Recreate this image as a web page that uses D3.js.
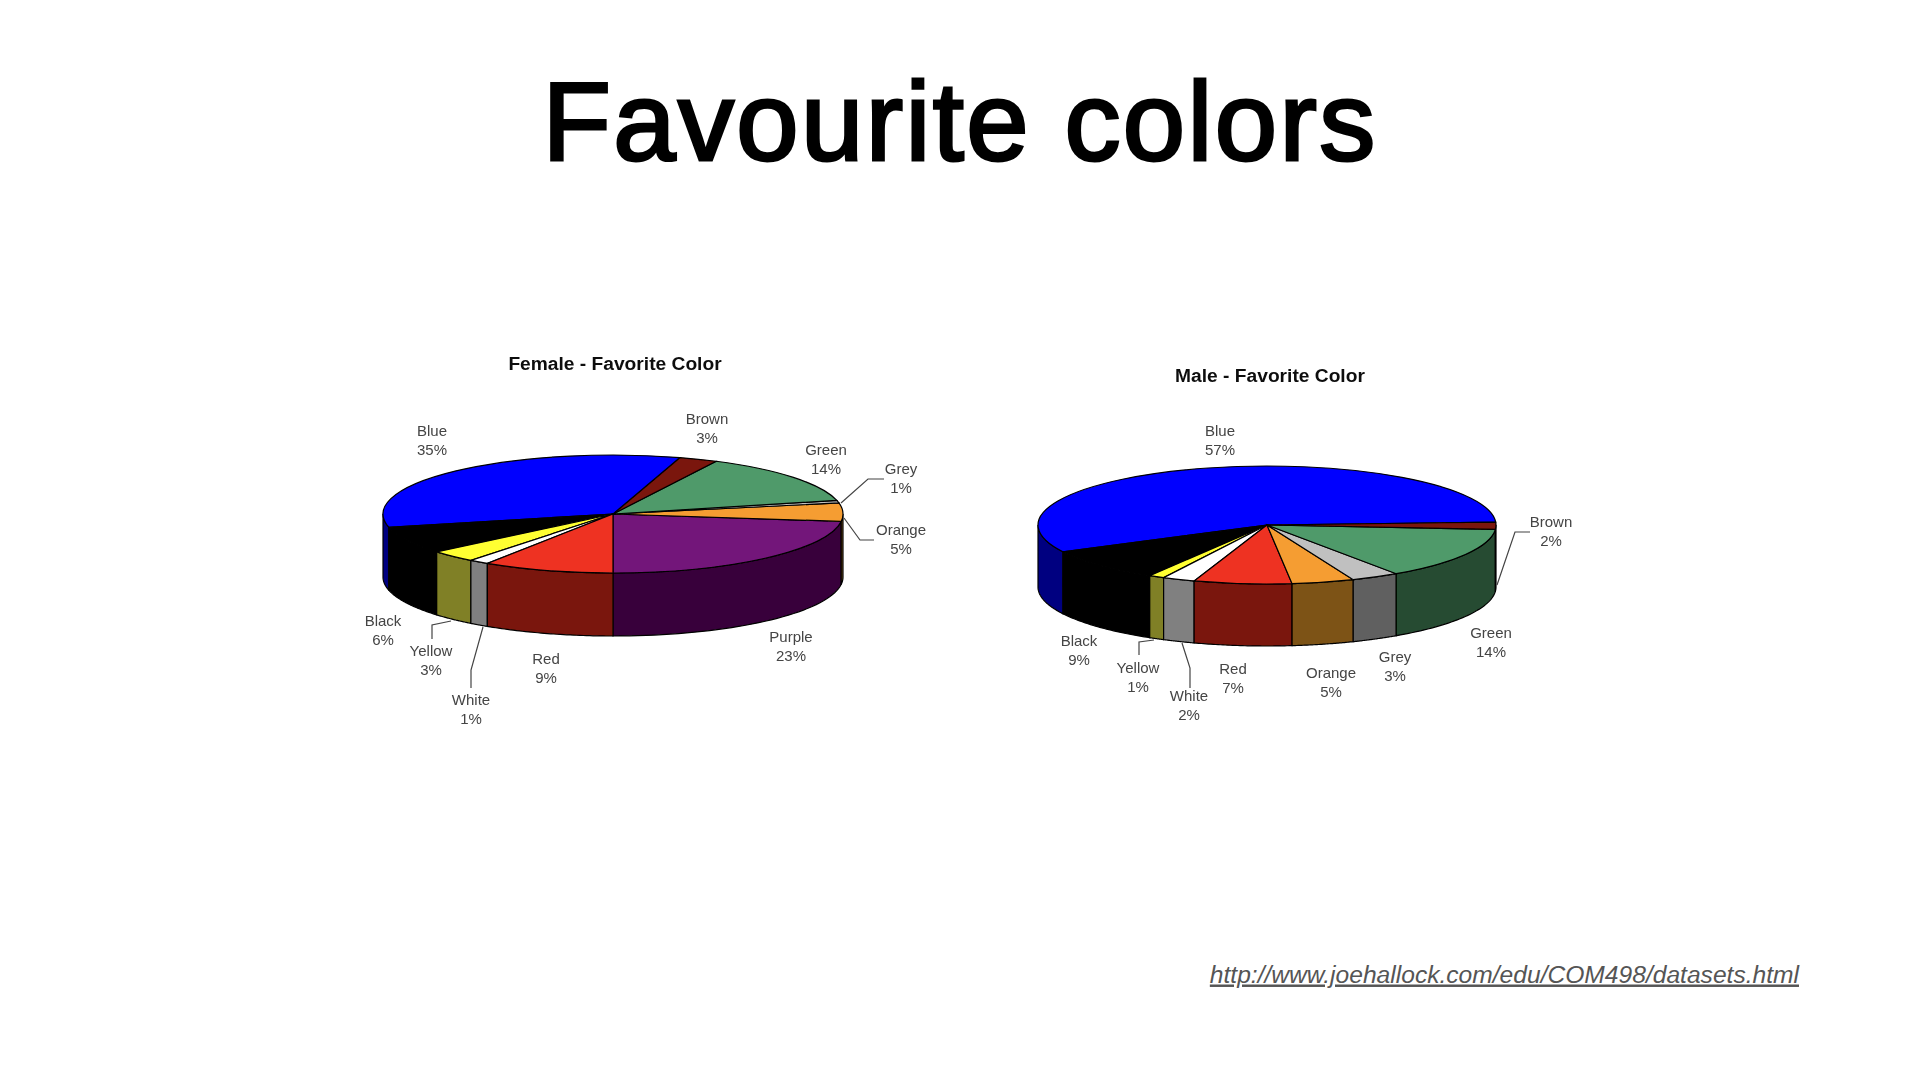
<!DOCTYPE html>
<html>
<head>
<meta charset="utf-8">
<title>Favourite colors</title>
<script src="https://d3js.org/d3.v7.min.js"></script>
<style>
    html, body { margin: 0; background: #fff; }
    svg { display: block; }
    text { font-family: "Liberation Sans", Arial, sans-serif; }
</style>
</head>
<body>
<svg id="chart" width="1920" height="1080"></svg>
<script>
// slice sizes measured off the two pies, in drawing order (counter-clockwise on screen).
// the printed percentages are rounded and don't quite agree with the drawn wedges
const femaleNames = ['Purple', 'Orange', 'Grey', 'Green', 'Brown', 'Blue', 'Black', 'Yellow', 'White', 'Red']
const femaleValues = [23, 5, 0.7, 13.9, 2.7, 33.3, 7.5, 3.3, 1.4, 9.2]
const femaleLabels = ['23%', '5%', '1%', '14%', '3%', '35%', '6%', '3%', '1%', '9%']

const maleNames = ['Blue', 'Black', 'Yellow', 'White', 'Red', 'Orange', 'Grey', 'Green', 'Brown']
const maleValues = [56.7, 8.95, 1.1, 2.3, 6.9, 4.4, 3.4, 14.25, 2]
const maleLabels = ['57%', '9%', '1%', '2%', '7%', '5%', '3%', '14%', '2%']

const topColors = {
    Blue: '#0000ff', Black: '#000000', Yellow: '#ffff33', White: '#ffffff', Red: '#ee3224',
    Purple: '#73137a', Orange: '#f59d30', Grey: '#c0c0c0', Green: '#4f9a6a', Brown: '#7a120a'
}
const wallColors = {
    Blue: '#000080', Black: '#000000', Yellow: '#808025', White: '#808080', Red: '#7a120a',
    Purple: '#39053a', Orange: '#7d5214', Grey: '#606060', Green: '#284c32', Brown: '#3d0905'
}

// label centres, [x, y of first line]
const femaleLabelPos = {
    Blue: [432, 431], Brown: [707, 419], Green: [826, 450], Grey: [901, 469], Orange: [901, 530],
    Purple: [791, 637], Red: [546, 659], White: [471, 700], Yellow: [431, 651], Black: [383, 621]
}
const maleLabelPos = {
    Blue: [1220, 431], Brown: [1551, 522], Green: [1491, 633], Grey: [1395, 657], Orange: [1331, 673],
    Red: [1233, 669], White: [1189, 696], Yellow: [1138, 668], Black: [1079, 641]
}

const femaleLeaders = [
    [[841, 503], [868, 479], [884, 479]],
    [[844, 518], [860, 540], [874, 540]],
    [[451, 621], [432, 625], [432, 639]],
    [[483, 627], [471, 670], [471, 688]]
]
const maleLeaders = [
    [[1497, 585], [1515, 532], [1530, 532]],
    [[1154, 640], [1139, 642], [1139, 655]],
    [[1182, 643], [1190, 668], [1190, 688]]
]

const svg = d3.select('#chart')

// the source pies are a blurry screenshot
svg.append('defs').append('filter')
    .attr('id', 'soft')
    .append('feGaussianBlur')
    .attr('stdDeviation', 0.5)

svg.append('text')
    .attr('x', 960)
    .attr('y', 160)
    .attr('text-anchor', 'middle')
    .attr('font-size', 112)
    .attr('letter-spacing', 2.4)
    .attr('stroke', '#000')
    .attr('stroke-width', 3)
    .text('Favourite colors')

svg.append('text')
    .attr('x', 1799)
    .attr('y', 982.5)
    .attr('text-anchor', 'end')
    .attr('font-size', 24.6)
    .attr('font-style', 'italic')
    .attr('fill', '#555')
    .attr('text-decoration', 'underline')
    .text('http://www.joehallock.com/edu/COM498/datasets.html')

drawPie({
    title: 'Female - Favorite Color', titleX: 615, titleY: 363,
    names: femaleNames, values: femaleValues, labels: femaleLabels, start: Math.PI,
    cx: 613, cy: 514, rx: 230, ry: 59, depth: 63,
    labelPos: femaleLabelPos, leaders: femaleLeaders
})

drawPie({
    title: 'Male - Favorite Color', titleX: 1270, titleY: 375,
    names: maleNames, values: maleValues, labels: maleLabels, start: Math.PI / 2 - 0.05,
    cx: 1267, cy: 525, rx: 229, ry: 59, depth: 62,
    labelPos: maleLabelPos, leaders: maleLeaders
})

function drawPie(opts) {
    let g = svg.append('g').attr('filter', 'url(#soft)')

    let slices = d3.pie()
        .sort(null)
        .startAngle(opts.start)
        .endAngle(opts.start - 2 * Math.PI)(opts.values)
        .map((d, i) => ({ ...d, name: opts.names[i], label: opts.labels[i] }))

    // front walls first, only the parts that face the viewer
    let wallParts = []
    slices.forEach(d => {
        let hi = Math.max(d.startAngle, d.endAngle)
        let lo = Math.min(d.startAngle, d.endAngle)
        d3.range(-2, 3).forEach(k => {
            let a0 = Math.max(lo, Math.PI / 2 + 2 * Math.PI * k)
            let a1 = Math.min(hi, 3 * Math.PI / 2 + 2 * Math.PI * k)
            if (a1 > a0) wallParts.push({ name: d.name, a0: a0, a1: a1 })
        })
    })

    let line = d3.line()

    g.selectAll('path.wall')
        .data(wallParts)
        .join('path')
        .attr('class', 'wall')
        .attr('d', d => {
            let top = d3.range(41).map(i => {
                let a = d.a0 + (d.a1 - d.a0) * i / 40
                return [opts.cx + opts.rx * Math.sin(a), opts.cy - opts.ry * Math.cos(a)]
            })
            let bottom = top.slice().reverse().map(p => [p[0], p[1] + opts.depth])
            return line(top.concat(bottom)) + 'Z'
        })
        .attr('fill', d => wallColors[d.name])
        .attr('stroke', '#000')
        .attr('stroke-width', 1.2)

    // top face is a normal arc squashed into an ellipse
    let arc = d3.arc().innerRadius(0).outerRadius(opts.rx)

    g.append('g')
        .attr('transform', `translate(${opts.cx},${opts.cy}) scale(1,${opts.ry / opts.rx})`)
        .selectAll('path')
        .data(slices)
        .join('path')
        .attr('d', arc)
        .attr('fill', d => topColors[d.name])
        .attr('stroke', '#000')
        .attr('stroke-width', 1.2)
        .attr('vector-effect', 'non-scaling-stroke')

    g.selectAll('path.leader')
        .data(opts.leaders)
        .join('path')
        .attr('class', 'leader')
        .attr('d', line)
        .attr('fill', 'none')
        .attr('stroke', '#444')
        .attr('stroke-width', 1.2)

    g.append('text')
        .attr('x', opts.titleX)
        .attr('y', opts.titleY)
        .attr('dy', '0.35em')
        .attr('text-anchor', 'middle')
        .attr('font-size', 19.2)
        .attr('font-weight', 'bold')
        .attr('fill', '#111')
        .text(opts.title)

    let labels = g.selectAll('g.label')
        .data(slices)
        .join('g')
        .attr('class', 'label')
        .attr('transform', d => `translate(${opts.labelPos[d.name]})`)
        .attr('text-anchor', 'middle')
        .attr('font-size', 15)
        .attr('fill', '#444')

    labels.append('text')
        .attr('dy', '0.35em')
        .text(d => d.name)

    labels.append('text')
        .attr('y', 19)
        .attr('dy', '0.35em')
        .text(d => d.label)
}
</script>
</body>
</html>
